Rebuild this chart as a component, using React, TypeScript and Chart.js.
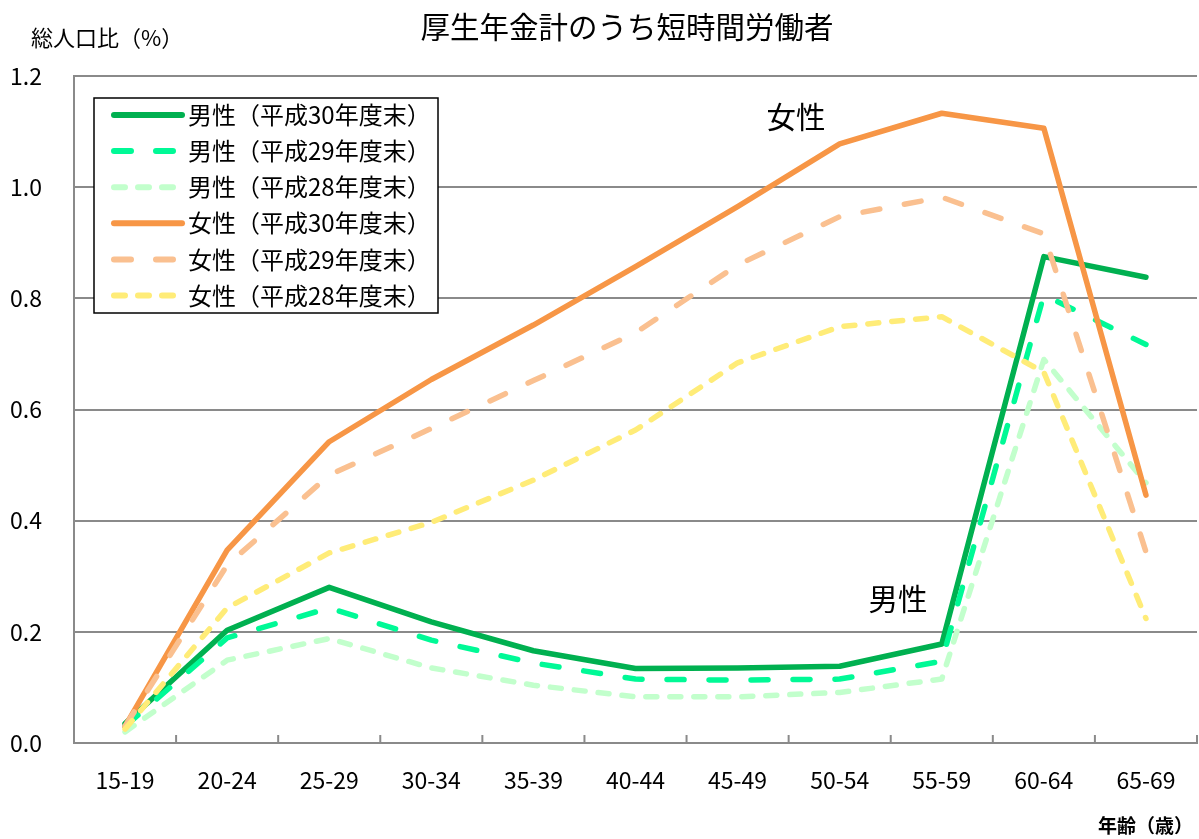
import React, { useEffect, useRef } from "react";
import { Chart, registerables } from "chart.js";

Chart.register(...registerables);

const categories = ["15-19", "20-24", "25-29", "30-34", "35-39", "40-44", "45-49", "50-54", "55-59", "60-64", "65-69"];
const yTicks = [0, 0.2, 0.4, 0.6, 0.8, 1.0, 1.2];

const male30 = [0.035, 0.203, 0.280, 0.218, 0.166, 0.134, 0.135, 0.138, 0.178, 0.875, 0.838];
const male29 = [0.03, 0.189, 0.243, 0.185, 0.144, 0.115, 0.113, 0.115, 0.147, 0.806, 0.717];
const male28 = [0.02, 0.149, 0.188, 0.135, 0.104, 0.083, 0.083, 0.091, 0.115, 0.69, 0.468];
const female30 = [0.03, 0.347, 0.542, 0.654, 0.752, 0.857, 0.965, 1.078, 1.133, 1.106, 0.446];
const female29 = [0.03, 0.32, 0.482, 0.566, 0.652, 0.738, 0.86, 0.947, 0.982, 0.916, 0.344];
const female28 = [0.025, 0.243, 0.342, 0.397, 0.473, 0.563, 0.684, 0.749, 0.767, 0.667, 0.224];

const seriesLabels = [
  "男性（平成30年度末）",
  "男性（平成29年度末）",
  "男性（平成28年度末）",
  "女性（平成30年度末）",
  "女性（平成29年度末）",
  "女性（平成28年度末）",
];

const FONT = '"Noto Sans CJK JP", "Noto Sans", sans-serif';
const GRID = "#8a8a8a";

export default function App() {
  const ref = useRef<HTMLCanvasElement | null>(null);

  useEffect(() => {
    if (!ref.current) return;
    const series = [male30, male29, male28, female30, female29, female28];
    const colors = ["#00B050", "#00F996", "#C2FFCC", "#F79646", "#FAC090", "#FFEC78"];
    const dashes: number[][] = [[], [17, 25], [11, 13], [], [17, 25], [11, 13]];

    const overlay = {
      id: "overlay",
      afterDraw(chart: any) {
        const ctx = chart.ctx as CanvasRenderingContext2D;
        const area = chart.chartArea;
        const xs = chart.scales.x;
        ctx.save();
        // inner x ticks
        ctx.strokeStyle = GRID;
        ctx.lineWidth = 2;
        const n = categories.length;
        for (let i = 0; i <= n; i++) {
          const x = xs.left + (i * (xs.right - xs.left)) / n;
          ctx.beginPath();
          ctx.moveTo(x, area.bottom);
          ctx.lineTo(x, area.bottom - 8);
          ctx.stroke();
        }
        ctx.fillStyle = "#000";
        // title
        ctx.textBaseline = "middle";
        ctx.textAlign = "center";
        ctx.font = `29.5px ${FONT}`;
        ctx.fillText("厚生年金計のうち短時間労働者", 627, 27);
        // y axis title
        ctx.textAlign = "left";
        ctx.font = `22px ${FONT}`;
        ctx.fillText("総人口比（%）", 31, 38);
        // x axis title
        ctx.textAlign = "right";
        ctx.font = `bold 19px ${FONT}`;
        ctx.fillText("年齢（歳）", 1193, 826);
        // annotations
        ctx.textAlign = "center";
        ctx.font = `29.5px ${FONT}`;
        ctx.fillText("女性", 796, 117);
        ctx.fillText("男性", 898, 599);
        // legend
        const bx = area.left + 20;
        const by = area.top + 22;
        const bw = 344;
        const bh = 215;
        ctx.fillStyle = "#fff";
        ctx.fillRect(bx, by, bw, bh);
        ctx.strokeStyle = "#000";
        ctx.lineWidth = 1.5;
        ctx.strokeRect(bx, by, bw, bh);
        ctx.lineCap = "round";
        for (let i = 0; i < seriesLabels.length; i++) {
          const cy = by + 17 + i * 36.1;
          ctx.strokeStyle = colors[i];
          ctx.lineWidth = 6;
          ctx.setLineDash(dashes[i]);
          ctx.beginPath();
          ctx.moveTo(bx + 20, cy);
          ctx.lineTo(bx + 88, cy);
          ctx.stroke();
          ctx.setLineDash([]);
          ctx.fillStyle = "#000";
          ctx.textAlign = "left";
          ctx.textBaseline = "middle";
          ctx.font = `24px ${FONT}`;
          ctx.fillText(seriesLabels[i], bx + 94, cy);
        }
        ctx.restore();
      },
    };

    const chart = new Chart(ref.current, {
      type: "line",
      data: {
        labels: categories,
        datasets: series.map((d, i) => ({
          label: seriesLabels[i],
          data: d,
          borderColor: colors[i],
          backgroundColor: colors[i],
          borderWidth: 5.5,
          borderDash: dashes[i],
          borderCapStyle: "round" as const,
          borderJoinStyle: "round" as const,
          pointRadius: 0,
          tension: 0,
          fill: false,
          order: series.length - 1 - i,
        })),
      },
      options: {
        responsive: false,
        animation: false,
        layout: { padding: { top: 76, right: 2, left: 0, bottom: 0 } },
        plugins: {
          legend: { display: false },
          title: { display: false },
          tooltip: { enabled: false },
        },
        scales: {
          x: {
            type: "category",
            offset: true,
            grid: { display: true, drawOnChartArea: false, drawTicks: false, offset: true },
            border: { display: true, color: GRID, width: 2 },
            ticks: { color: "#000", font: { family: FONT, size: 23 }, padding: 23, maxRotation: 0, autoSkip: false },
            afterFit: (s: any) => {
              s.height = 96;
            },
          },
          y: {
            min: 0,
            max: 1.2,
            afterBuildTicks: (s: any) => {
              s.ticks = yTicks.map((v) => ({ value: v }));
            },
            grid: { color: GRID, lineWidth: 2, drawTicks: false },
            border: { display: true, color: GRID, width: 2 },
            ticks: {
              color: "#000",
              font: { family: FONT, size: 23 },
              padding: 32,
              callback: (v: any) => Number(v).toFixed(1),
            },
            afterFit: (s: any) => {
              s.width = 74;
            },
          },
        },
      },
      plugins: [overlay],
    });
    return () => chart.destroy();
  }, []);

  return (
    <div style={{ position: "absolute", left: 0, top: 0, width: 1199, height: 839, background: "#fff" }}>
      <canvas ref={ref} width={1199} height={839} />
    </div>
  );
}
